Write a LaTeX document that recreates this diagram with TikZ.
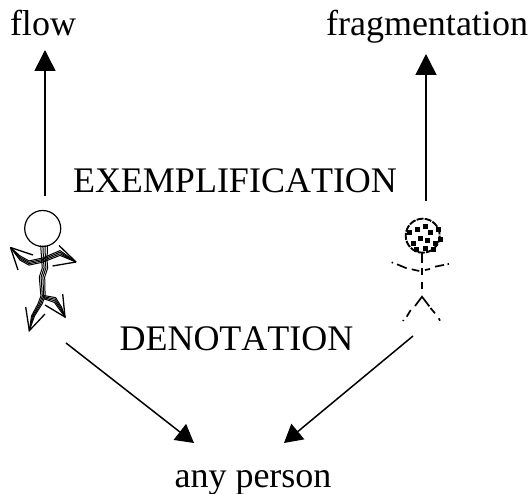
\documentclass[tikz,border=0pt]{standalone}
\usepackage{fontspec}
\setmainfont[Kerning=Off]{Liberation Serif}
\usetikzlibrary{arrows.meta}
\tikzset{
  lbl/.style={inner sep=0pt,outer sep=0pt,anchor=base,font=\fontsize{36}{36}\selectfont},
  conn/.style={draw=black,line width=1.5pt,-{Triangle[length=21pt,width=21pt]}},
  conndiag/.style={draw=black,line width=1.5pt,-{Triangle[length=18pt,width=20pt]}},
  limb/.style={draw=black,line width=1pt,line join=round},
  handline/.style={draw=black,line width=1.3pt},
  dashlimb/.style={draw=black,line width=1.7pt}
}
\begin{document}
\begin{tikzpicture}[x=1pt,y=-1pt]
\useasboundingbox (0,0) rectangle (530,494);
\node[lbl] (flow) at (43,36) {flow};
\node[lbl] (frag) at (427,36) {fragmentation};
\node[lbl] (exem) at (235,193) {EXEMPLIFICATION};
\node[lbl] (deno) at (236.5,350) {DENOTATION};
\node[lbl] (any) at (253,487) {any person};
\coordinate (fa) at (45,196);
\coordinate (fb) at (45,50);
\coordinate (ga) at (426,201);
\coordinate (gb) at (426,54);
\coordinate (ha) at (66,343);
\coordinate (hb) at (194,443);
\coordinate (ia) at (413,336);
\coordinate (ib) at (284,443);
\draw[conn] (fa) -- (fb);
\draw[conn] (ga) -- (gb);
\draw[conndiag] (ha) -- (hb);
\draw[conndiag] (ia) -- (ib);
% running figure
\draw[black,line width=1.2pt,fill=white] (42.7,228.5) circle (18);
\foreach \d in {-3,-1,1,3}{
  \draw[limb] ({44+\d*1.1},245.5) -- ({44.5+\d*0.9},262) -- ({45+\d*0.9},268) -- ({42+\d*0.9},277) -- ({43+\d*0.7},296) -- ({40+\d*0.7},304) -- ({33+\d*0.5},316) -- (29.3,330.7);
  \draw[limb] (10.5,247.5) -- (20,{258+\d*0.7}) -- (29,{263+\d*0.7}) -- (43,{260+\d*0.7}) -- (60,{253+\d*0.8}) -- (76,262);
  \draw[limb] ({43+\d*0.3},{297+\d*0.6}) -- ({55-\d*0.2},{300+\d*0.8}) -- ({61-\d*0.2},{309+\d*0.6}) -- (65,317);
}
\draw[handline] (10.5,247.5) -- (33,255);
\draw[handline] (10.5,247.5) -- (18,270);
\draw[handline] (76,262) -- (59,245.5);
\draw[handline] (76,262) -- (52.5,266);
\draw[handline] (25.7,307) -- (29.3,330.7) -- (45,314);
\draw[handline] (62.7,294) -- (65,317) -- (45,305);
% fragmented figure
\draw[black,line width=1.9pt,fill=white,dash pattern=on 7pt off 1.2pt] (422.7,235.7) circle (17);
\foreach \x/\y in {409.3/232.3,417.3/230,425/226.7,430.7/232.3,438.3/230,413.3/243.3,420/238.3,427.7/240.7,435/243.3,416.7/249.3,425/249,433/250,440/240}{
  \fill[black] (\x-2.5,\y-2.5) rectangle (\x+2.5,\y+2.5);
}
\draw[black,line width=2pt] (422,253) -- (422,262.7);
\draw[dashlimb] (422,268) -- (422,275);
\draw[dashlimb] (422,281.7) -- (422,289);
\draw[dashlimb] (391.7,262.3) -- (393,262.8);
\draw[dashlimb] (397,264.3) -- (406.7,268.3);
\draw[dashlimb] (411.7,269.3) -- (419.3,271);
\draw[dashlimb] (425,270) -- (430,269);
\draw[dashlimb] (435,266.7) -- (444,264.9);
\draw[dashlimb] (447.5,264.2) -- (449,264);
\draw[dashlimb] (415,306) -- (422,296.7) -- (429.3,306.3);
\draw[dashlimb] (410.7,310) -- (406.7,316.7);
\draw[dashlimb] (403.5,320) -- (403,321);
\draw[dashlimb] (430.5,308) -- (435,313.3);
\draw[dashlimb] (438.7,318.3) -- (440,320.7);
\end{tikzpicture}
\end{document}
